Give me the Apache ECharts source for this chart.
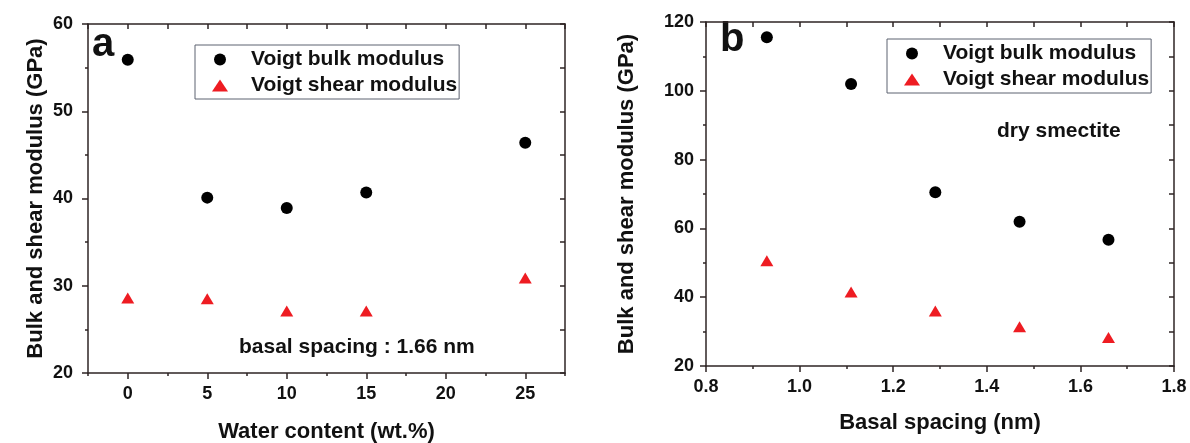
<!DOCTYPE html>
<html>
<head>
<meta charset="utf-8">
<script src="https://cdn.jsdelivr.net/npm/echarts@6/dist/echarts.min.js"></script>
<style>
  html, body { margin: 0; padding: 0; background: #fff; }
  #chart { width: 1190px; height: 443px; }
</style>
</head>
<body>
<div id="chart"></div>
<script>
// panel a: moduli vs water content (basal spacing 1.66 nm)
var waterContent = [0, 5, 10, 15, 25];
var bulkA = [55.9, 40.1, 38.9, 40.7, 46.4];
var shearA = [28.6, 28.5, 27.1, 27.1, 30.9];
var waterTicks = [0, 5, 10, 15, 20, 25];

// panel b: moduli vs basal spacing (dry smectite)
var basalSpacing = [0.93, 1.11, 1.29, 1.47, 1.66];
var bulkB = [115.6, 102.0, 70.5, 61.9, 56.7];
var shearB = [50.6, 41.5, 36.0, 31.4, 28.3];

var seriesNames = ['Voigt bulk modulus', 'Voigt shear modulus'];

(function() {
  var ink = '#111';
  var axisCol = '#2e2424';
  var red = '#ee1c22';
  var font = 'Liberation Sans';

  function pairs(xs, ys) {
    return xs.map(function(x, i) { return [x, ys[i]]; });
  }

  var labelStyle = { color: ink, fontSize: 18, fontWeight: 'bold', fontFamily: font };
  var nameStyle = { color: ink, fontSize: 22, fontWeight: 'bold', fontFamily: font };
  var lineStyle = { show: true, onZero: false, lineStyle: { color: axisCol, width: 1.5 } };

  var chart = echarts.init(document.getElementById('chart'), null, { renderer: 'canvas' });

  var legendBase = {
    orient: 'vertical',
    itemWidth: 16,
    itemHeight: 12,
    itemGap: 5,
    padding: [4, 2, 3, 17],
    borderColor: '#5d6270',
    borderWidth: 1,
    selectedMode: false,
    data: seriesNames,
    textStyle: { color: ink, fontSize: 21, fontWeight: 'bold', fontFamily: font, padding: [0, 0, 0, 18] }
  };

  chart.setOption({
    animation: false,
    backgroundColor: '#fff',
    grid: [
      { left: 88, top: 24, width: 477, height: 349, outerBoundsMode: 'none' },
      { left: 706, top: 22, width: 468, height: 344, outerBoundsMode: 'none' }
    ],
    legend: [
      Object.assign({}, legendBase, { left: 195, top: 45 }),
      Object.assign({}, legendBase, { left: 887, top: 39 })
    ],
    xAxis: [
      { // a bottom, labelled
        gridIndex: 0, type: 'value', position: 'bottom', min: -2.5, max: 27.5,
        name: 'Water content (wt.%)', nameLocation: 'middle', nameGap: 48, nameTextStyle: nameStyle,
        axisLine: lineStyle,
        axisTick: { show: true, length: 6, customValues: waterTicks, lineStyle: { color: axisCol, width: 1.5 } },
        axisLabel: Object.assign({ margin: 12, customValues: waterTicks }, labelStyle),
        splitLine: { show: false }
      },
      { // a bottom minor ticks
        gridIndex: 0, type: 'value', position: 'bottom', min: -2.5, max: 27.5, interval: 2.5,
        axisLine: { show: false, onZero: false },
        axisTick: { show: true, length: 3, lineStyle: { color: axisCol, width: 1.5 } },
        axisLabel: { show: false }, splitLine: { show: false }
      },
      { // a top
        gridIndex: 0, type: 'value', position: 'top', min: -2.5, max: 27.5, interval: 2.5,
        axisLine: lineStyle,
        axisTick: { show: true, inside: true, length: 5, lineStyle: { color: axisCol, width: 1.5 } },
        axisLabel: { show: false }, splitLine: { show: false }
      },
      { // b bottom
        gridIndex: 1, type: 'value', position: 'bottom', min: 0.8, max: 1.8, interval: 0.2,
        name: 'Basal spacing (nm)', nameLocation: 'middle', nameGap: 46, nameTextStyle: nameStyle,
        axisLine: lineStyle,
        axisTick: { show: true, length: 6, lineStyle: { color: axisCol, width: 1.5 } },
        minorTick: { show: true, splitNumber: 2, length: 3, lineStyle: { color: axisCol, width: 1.5 } },
        axisLabel: Object.assign({ margin: 12, formatter: function(v) { return v.toFixed(1); } }, labelStyle),
        splitLine: { show: false }
      },
      { // b top
        gridIndex: 1, type: 'value', position: 'top', min: 0.8, max: 1.8, interval: 0.1,
        axisLine: lineStyle,
        axisTick: { show: true, inside: true, length: 5, lineStyle: { color: axisCol, width: 1.5 } },
        axisLabel: { show: false }, splitLine: { show: false }
      }
    ],
    yAxis: [
      { // a left
        gridIndex: 0, type: 'value', position: 'left', min: 20, max: 60, interval: 10,
        name: 'Bulk and shear modulus (GPa)', nameLocation: 'middle', nameGap: 41, nameTextStyle: nameStyle,
        axisLine: lineStyle,
        axisTick: { show: true, length: 6, lineStyle: { color: axisCol, width: 1.5 } },
        minorTick: { show: true, splitNumber: 2, length: 3, lineStyle: { color: axisCol, width: 1.5 } },
        axisLabel: Object.assign({ margin: 15 }, labelStyle),
        splitLine: { show: false }
      },
      { // a right
        gridIndex: 0, type: 'value', position: 'right', min: 20, max: 60, interval: 5,
        axisLine: lineStyle,
        axisTick: { show: true, inside: true, length: 5, lineStyle: { color: axisCol, width: 1.5 } },
        axisLabel: { show: false }, splitLine: { show: false }
      },
      { // b left
        gridIndex: 1, type: 'value', position: 'left', min: 20, max: 120, interval: 20,
        name: 'Bulk and shear modulus (GPa)', nameLocation: 'middle', nameGap: 68, nameTextStyle: nameStyle,
        axisLine: lineStyle,
        axisTick: { show: true, length: 6, lineStyle: { color: axisCol, width: 1.5 } },
        minorTick: { show: true, splitNumber: 2, length: 3, lineStyle: { color: axisCol, width: 1.5 } },
        axisLabel: Object.assign({ margin: 12 }, labelStyle),
        splitLine: { show: false }
      },
      { // b right
        gridIndex: 1, type: 'value', position: 'right', min: 20, max: 120, interval: 10,
        axisLine: lineStyle,
        axisTick: { show: true, inside: true, length: 5, lineStyle: { color: axisCol, width: 1.5 } },
        axisLabel: { show: false }, splitLine: { show: false }
      }
    ],
    graphic: [
      { type: 'text', left: 92, top: 25, style: { text: 'a', fontSize: 40, fontWeight: 'bold', fontFamily: font, fill: ink } },
      { type: 'text', left: 720, top: 20, style: { text: 'b', fontSize: 40, fontWeight: 'bold', fontFamily: font, fill: ink } },
      { type: 'text', left: 239, top: 337, style: { text: 'basal spacing : 1.66 nm', fontSize: 21, fontWeight: 'bold', fontFamily: font, fill: ink } },
      { type: 'text', left: 997, top: 121, style: { text: 'dry smectite', fontSize: 21, fontWeight: 'bold', fontFamily: font, fill: ink } }
    ],
    series: [
      { name: seriesNames[0], type: 'scatter', xAxisIndex: 0, yAxisIndex: 0, data: pairs(waterContent, bulkA),
        symbol: 'circle', symbolSize: 12, itemStyle: { color: '#000', opacity: 1 } },
      { name: seriesNames[1], type: 'scatter', xAxisIndex: 0, yAxisIndex: 0, data: pairs(waterContent, shearA),
        symbol: 'triangle', symbolSize: [13, 11], itemStyle: { color: red, opacity: 1 } },
      { name: seriesNames[0], type: 'scatter', xAxisIndex: 3, yAxisIndex: 2, data: pairs(basalSpacing, bulkB),
        symbol: 'circle', symbolSize: 12, itemStyle: { color: '#000', opacity: 1 } },
      { name: seriesNames[1], type: 'scatter', xAxisIndex: 3, yAxisIndex: 2, data: pairs(basalSpacing, shearB),
        symbol: 'triangle', symbolSize: [13, 11], itemStyle: { color: red, opacity: 1 } }
    ]
  });
  window.addEventListener('resize', function() { chart.resize(); });
})();
</script>
</body>
</html>
